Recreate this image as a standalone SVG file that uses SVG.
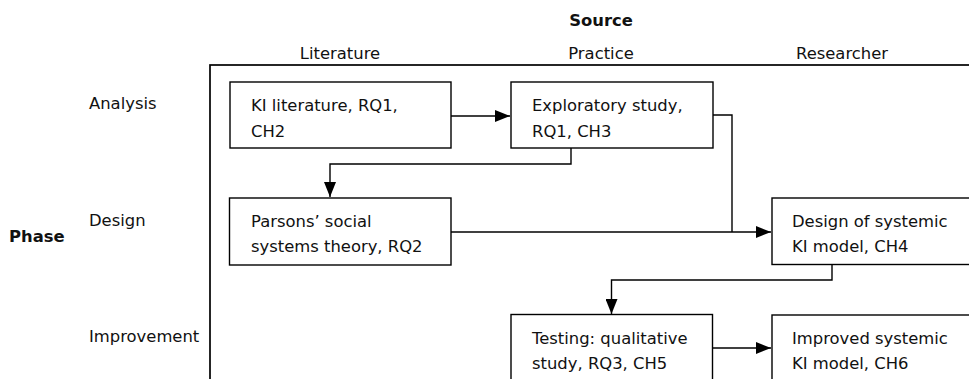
<svg xmlns="http://www.w3.org/2000/svg" width="969" height="379" viewBox="0 0 969 379">
  <style>
    text { font-family: "DejaVu Sans", Verdana, sans-serif; font-size: 16.4px; fill: #111; }
    .bold { font-weight: bold; }
    .mid { text-anchor: middle; }
    .box { fill: #fff; stroke: #000; stroke-width: 1.4; }
    .frame { fill: none; stroke: #000; stroke-width: 1.7; }
    .conn { fill: none; stroke: #000; stroke-width: 1.4; }
  </style>
  <defs>
    <marker id="arrow" markerUnits="userSpaceOnUse" markerWidth="15" markerHeight="12" refX="15" refY="6" orient="auto">
      <path d="M0,0 L15,6 L0,12 Z" fill="#000"/>
    </marker>
  </defs>
  <rect width="969" height="379" fill="#fff"/>

  <!-- axis labels -->
  <g id="axes">
    <text class="bold mid" x="601" y="26">Source</text>
    <text class="mid" x="340" y="59">Literature</text>
    <text class="mid" x="601" y="59">Practice</text>
    <text class="mid" x="842" y="59">Researcher</text>
    <text class="bold" x="9" y="242">Phase</text>
    <text x="89" y="109">Analysis</text>
    <text x="89" y="226">Design</text>
    <text x="89" y="342">Improvement</text>
  </g>

  <!-- matrix frame -->
  <rect class="frame" x="210" y="65" width="820" height="360"/>

  <!-- connectors -->
  <g id="connectors">
    <line class="conn" x1="451" y1="116" x2="510" y2="116" marker-end="url(#arrow)"/>
    <polyline class="conn" points="571,148 571,164 330,164 330,197" marker-end="url(#arrow)"/>
    <polyline class="conn" points="713,115 732,115 732,232"/>
    <line class="conn" x1="451" y1="232" x2="771" y2="232" marker-end="url(#arrow)"/>
    <polyline class="conn" points="832,265 832,280 611.5,280 611.5,314" marker-end="url(#arrow)"/>
    <line class="conn" x1="713" y1="348" x2="771" y2="348" marker-end="url(#arrow)"/>
  </g>

  <g id="ki-literature">
    <rect class="box" x="230" y="82" width="221" height="66"/>
    <text x="251" y="111">KI literature, RQ1,</text>
    <text x="251" y="137">CH2</text>
  </g>
  <g id="exploratory-study">
    <rect class="box" x="511" y="82" width="202" height="66"/>
    <text x="532" y="111">Exploratory study,</text>
    <text x="532" y="137">RQ1, CH3</text>
  </g>
  <g id="parsons-theory">
    <rect class="box" x="229.5" y="198" width="221.5" height="67"/>
    <text x="251" y="227">Parsons’ social</text>
    <text x="251" y="252">systems theory, RQ2</text>
  </g>
  <g id="design-model">
    <rect class="box" x="772" y="198" width="202" height="66.5"/>
    <text x="792" y="227">Design of systemic</text>
    <text x="792" y="252">KI model, CH4</text>
  </g>
  <g id="testing-study">
    <rect class="box" x="511" y="314.5" width="201.5" height="70"/>
    <text x="532" y="344">Testing: qualitative</text>
    <text x="532" y="369">study, RQ3, CH5</text>
  </g>
  <g id="improved-model">
    <rect class="box" x="772" y="315" width="202" height="70"/>
    <text x="792" y="344">Improved systemic</text>
    <text x="792" y="369">KI model, CH6</text>
  </g>
</svg>
